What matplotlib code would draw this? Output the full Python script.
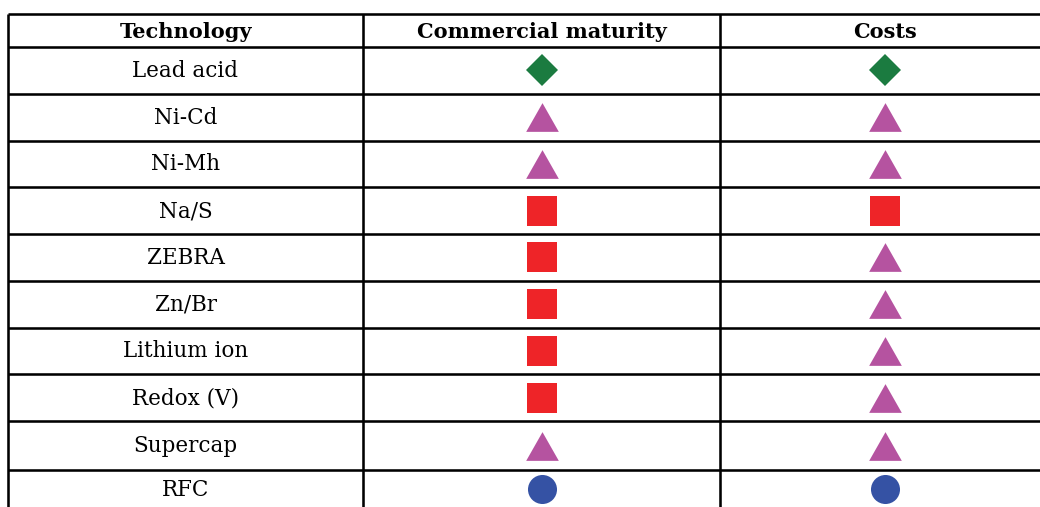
import numpy as np
import matplotlib
matplotlib.use('Agg')
import matplotlib.pyplot as plt

# table content
columns = ['Technology', 'Commercial maturity', 'Costs']
technologies = ['Lead acid', 'Ni-Cd', 'Ni-Mh', 'Na/S', 'ZEBRA', 'Zn/Br',
                'Lithium ion', 'Redox (V)', 'Supercap', 'RFC']
maturity = ['diamond', 'triangle', 'triangle', 'square', 'square', 'square',
            'square', 'square', 'triangle', 'circle']
costs = ['diamond', 'triangle', 'triangle', 'square', 'triangle', 'triangle',
         'triangle', 'triangle', 'triangle', 'circle']

# symbol styles (marker, colour, size in points)
tri = [(-1.0, -0.88), (1.0, -0.88), (0.0, 0.88)]
styles = {
    'diamond': ('D', '#1b7b40', 16.3),
    'triangle': (tri, '#b553a0', 23.5),
    'square': ('s', '#ee2428', 20.9),
    'circle': ('o', '#3552a4', 20.9),
}

W, H = 1040, 507
fig = plt.figure(figsize=(W / 100, H / 100), dpi=100)
ax = fig.add_axes([0, 0, 1, 1])
ax.set_xlim(0, W)
ax.set_ylim(H, 0)
ax.axis('off')

# grid geometry (pixels)
col_edges = [8, 363, 720, 1050]
row_edges = [14] + list(np.linspace(47, 421, 9)) + [470, 508]
lw = 1.85

for y in row_edges[:-1]:
    ax.plot([col_edges[0], W + 10], [y, y], color='black', lw=lw,
            solid_capstyle='butt')
for x in col_edges[:-1]:
    ax.plot([x, x], [row_edges[0], H + 5], color='black', lw=lw,
            solid_capstyle='butt')

col_centers = [(a + b) / 2 for a, b in zip(col_edges[:-1], col_edges[1:])]
row_centers = [(a + b) / 2 for a, b in zip(row_edges[:-1], row_edges[1:])]

font = 'DejaVu Serif'
for cx, name in zip(col_centers, columns):
    ax.text(cx, row_centers[0] + 1, name, ha='center', va='center',
            fontsize=15, fontweight='bold', family=font)

for i, tech in enumerate(technologies):
    yc = row_centers[i + 1]
    ax.text(col_centers[0], yc + 0.5, tech, ha='center', va='center',
            fontsize=15.5, family=font)
    for cx, key in zip(col_centers[1:], [maturity[i], costs[i]]):
        m, c, s = styles[key]
        ax.plot(cx, yc, marker=m, color=c, markersize=s, markeredgewidth=0,
                linestyle='none')

fig.savefig('out.png', dpi=100)
